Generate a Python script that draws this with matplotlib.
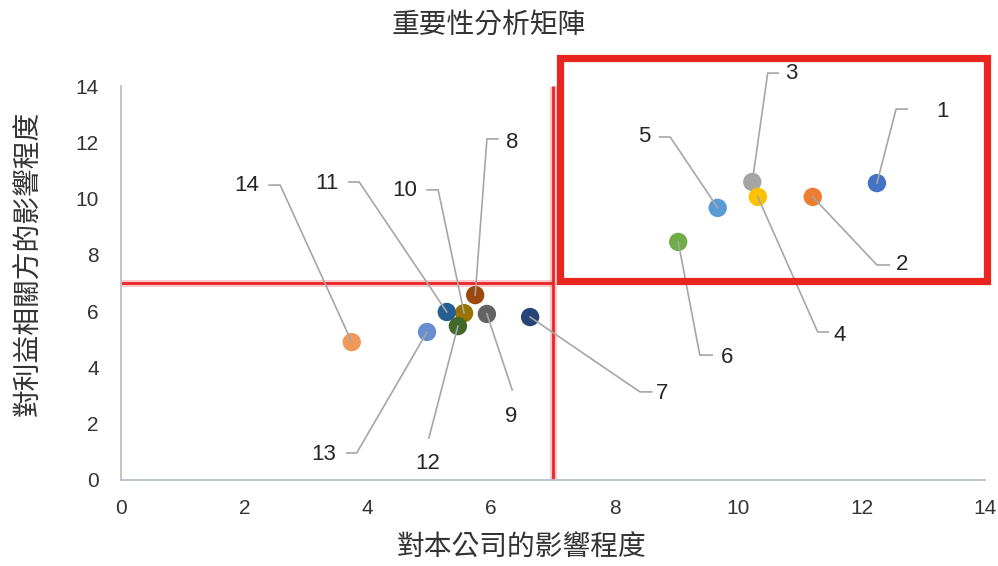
import matplotlib
matplotlib.use("Agg")
import matplotlib.pyplot as plt
from matplotlib.patches import Rectangle

plt.rcParams['font.family'] = ['Noto Sans CJK TC', 'DejaVu Sans']
NUM_FONT = ['Liberation Sans', 'DejaVu Sans']

# =============================================================================
# DATA
# =============================================================================

labels = ['1', '2', '3', '4', '5', '6', '7', '8', '9', '10', '11', '12', '13', '14']
company_impact = [12.25, 11.21, 10.23, 10.32, 9.67, 9.03, 6.63,
                  5.74, 5.93, 5.56, 5.28, 5.46, 4.96, 3.74]
stakeholder_impact = [10.55, 10.06, 10.59, 10.06, 9.67, 8.46, 5.79,
                      6.57, 5.90, 5.93, 5.97, 5.47, 5.26, 4.90]
colors = ['#4472C4', '#ED7D31', '#A5A5A5', '#FFC000', '#5B9BD5', '#70AD47',
          '#264478', '#9E480E', '#636363', '#997300', '#255E91', '#43682B',
          '#698ED0', '#F1975A']

threshold = 7
ticks = [0, 2, 4, 6, 8, 10, 12, 14]

# label layout: text position, elbow point, end of horizontal stub (data units)
label_text = [(13.32, 13.08), (12.66, 7.64), (10.87, 14.46), (11.65, 5.15),
              (8.48, 12.19), (9.82, 4.37), (8.77, 3.09), (6.34, 12.01),
              (6.32, 2.27), (4.59, 10.27), (3.34, 10.55), (4.97, 0.60),
              (3.29, 0.92), (2.04, 10.48)]
label_elbow = [(12.56, 13.18), (12.25, 7.64), (10.48, 14.46), (11.29, 5.26),
               (8.90, 12.19), (9.38, 4.44), (8.41, 3.13), (5.93, 12.12),
               (6.34, 3.20), (5.14, 10.31), (3.86, 10.59), (4.99, 1.49),
               (3.82, 0.96), (2.58, 10.48)]
label_stub = [(12.74, 13.18), (12.45, 7.64), (10.65, 14.46), (11.46, 5.26),
              (8.73, 12.19), (9.58, 4.44), (8.60, 3.13), (6.11, 12.12),
              None, (4.96, 10.31), (3.69, 10.59), None,
              (3.66, 0.96), (2.40, 10.48)]

# =============================================================================
# PLOT
# =============================================================================

fig = plt.figure(figsize=(9.98, 5.66), dpi=100)
ax = fig.add_axes([0.1212, 0.152, 0.8657, 0.696])

ax.scatter(company_impact, stakeholder_impact, s=175, c=colors,
           edgecolors='none', zorder=3, clip_on=False)

# leader lines + labels
for i, lab in enumerate(labels):
    xs = [company_impact[i], label_elbow[i][0]]
    ys = [stakeholder_impact[i], label_elbow[i][1]]
    if label_stub[i] is not None:
        xs.append(label_stub[i][0])
        ys.append(label_stub[i][1])
    ax.plot(xs, ys, color='#A6A6A6', lw=1.2, zorder=4, clip_on=False)
    ax.text(label_text[i][0], label_text[i][1], lab, fontsize=16,
            family=NUM_FONT, color='#262626', ha='center', va='center',
            clip_on=False)

# threshold lines (soft glow + core)
for lw, alpha in [(5, 0.25), (2, 1.0)]:
    ax.plot([threshold, threshold], [0, 14], color='#E8252A', lw=lw,
            alpha=alpha, zorder=2, solid_capstyle='butt')
    ax.plot([0, threshold], [threshold, threshold], color='#E8252A', lw=lw,
            alpha=alpha, zorder=2, solid_capstyle='butt')

# highlight box for the upper-right quadrant
ax.add_patch(Rectangle((7.11, 7.07), 14.04 - 7.11, 15.01 - 7.07, fill=False,
                       edgecolor='#E8251F', lw=5.2, clip_on=False, zorder=5))

ax.set_xlim(0, 14)
ax.set_ylim(0, 14)
ax.set_xticks(ticks)
ax.set_yticks(ticks)
ax.tick_params(axis='x', length=0, pad=14, labelsize=15, labelcolor='#333333')
ax.tick_params(axis='y', length=0, pad=16, labelsize=15, labelcolor='#333333')
for t in ax.get_xticklabels() + ax.get_yticklabels():
    t.set_family(NUM_FONT)

for side in ['top', 'right']:
    ax.spines[side].set_visible(False)
ax.spines['left'].set_color('#BFBFBF')
ax.spines['left'].set_linewidth(1.3)
ax.spines['bottom'].set_color('#B4BCCB')
ax.spines['bottom'].set_linewidth(1.3)

fig.text(0.490, 0.956, '重要性分析矩陣', fontsize=20, color='#333333',
         weight='light', ha='center', va='center')
fig.text(0.523, 0.032, '對本公司的影響程度', fontsize=20, color='#333333',
         weight='light', ha='center', va='center')
fig.text(0.029, 0.535, '對利益相關方的影響程度', fontsize=20, color='#333333',
         weight='light', ha='center', va='center', rotation=90)

fig.savefig('out.png', dpi=100)
